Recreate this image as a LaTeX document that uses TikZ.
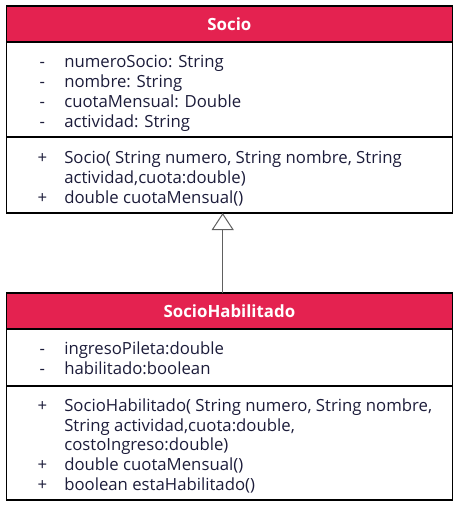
\documentclass[tikz,border=0pt]{standalone}
\usepackage{fontspec}
\setmainfont{Open Sans}
\usetikzlibrary{arrows.meta}
\definecolor{headred}{RGB}{228,34,80}
\definecolor{ink}{RGB}{28,28,58}
\definecolor{linkgray}{RGB}{96,96,96}
\newcommand{\vis}[1]{\makebox[10bp]{#1}}
\begin{document}
\begin{tikzpicture}[x=1bp,y=-1bp,
  compartment/.style={draw=black, line width=1.2bp, anchor=north west,
    minimum width=446.2bp, inner sep=0pt, outer sep=0pt},
  header/.style={compartment, fill=headred, text=white,
    font=\fontsize{16.9}{19}\selectfont\bfseries},
  members/.style={anchor=west, inner sep=0pt, outer sep=0pt, text=ink,
    font=\fontsize{16.8}{19.8}\selectfont},
  generalization/.style={draw=linkgray, line width=1bp,
    -{Triangle[open, length=17bp, width=22bp, line width=1bp]}},
]
\useasboundingbox (0,0) rectangle (457,505);

% class Socio
\node[header, minimum height=36bp] (socioHead) at (6.3,6) {Socio};
\node[compartment, minimum height=95bp] (socioAttr) at (6.3,42) {};
\node[compartment, minimum height=76bp] (socioOps) at (6.3,137) {};

\node[members] (socioAttrText) at ([xshift=31bp,yshift=-4bp]socioAttr.west) {%
  \begin{tabular}{@{}l@{\hspace{17bp}}l@{}}
  \vis{-} & numeroSocio: String\\
  \vis{-} & nombre: String\\
  \vis{-} & cuotaMensual: Double\\
  \vis{-} & actividad: String
  \end{tabular}};
\node[members] (socioOpsText) at ([xshift=31bp,yshift=-4.5bp]socioOps.west) {%
  \begin{tabular}{@{}l@{\hspace{17bp}}l@{}}
  \vis{+} & Socio( String numero, String nombre, String\\
          & actividad,cuota:double)\\
  \vis{+} & double cuotaMensual()
  \end{tabular}};

% class SocioHabilitado
\node[header, minimum height=36bp] (habHead) at (6.3,293) {SocioHabilitado};
\node[compartment, minimum height=57bp] (habAttr) at (6.3,329) {};
\node[compartment, minimum height=114bp] (habOps) at (6.3,386) {};

\node[members] (habAttrText) at ([xshift=31bp,yshift=-3bp]habAttr.west) {%
  \begin{tabular}{@{}l@{\hspace{17bp}}l@{}}
  \vis{-} & ingresoPileta:double\\
  \vis{-} & habilitado:boolean
  \end{tabular}};
\node[members] (habOpsText) at ([xshift=31bp,yshift=-4bp]habOps.west) {%
  \begin{tabular}{@{}l@{\hspace{17bp}}l@{}}
  \vis{+} & SocioHabilitado( String numero, String nombre,\\
          & String actividad,cuota:double,\\
          & costoIngreso:double)\\
  \vis{+} & double cuotaMensual()\\
  \vis{+} & boolean estaHabilitado()
  \end{tabular}};

% inheritance
\coordinate (linkBase) at ([xshift=-6.7bp]habHead.north);
\draw[generalization] (linkBase) -- (linkBase |- socioOps.south);
\end{tikzpicture}
\end{document}
